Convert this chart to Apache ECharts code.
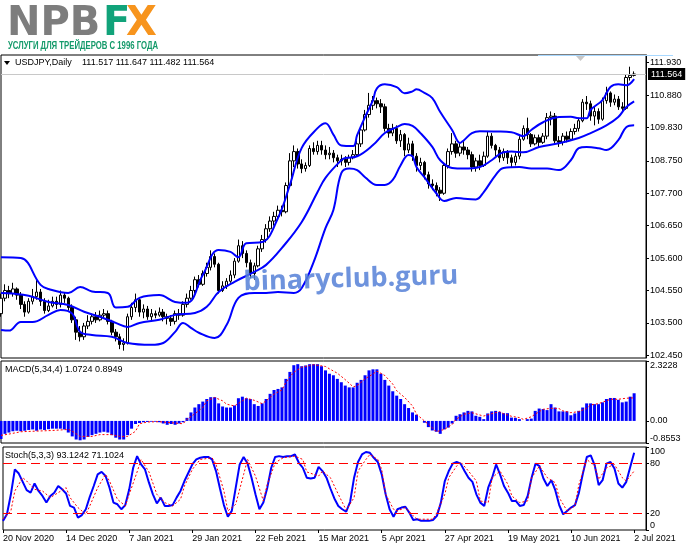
<!DOCTYPE html>
<html><head><meta charset="utf-8">
<script src="https://cdn.jsdelivr.net/npm/echarts@6/dist/echarts.min.js"></script>
<style>html,body{margin:0;padding:0;background:#fff}#c{width:691px;height:549px}</style>
</head><body><div id="c"></div>
<script>
// ---------- DATA ----------
const tickLabels = ['20 Nov 2020','14 Dec 2020','7 Jan 2021','29 Jan 2021','22 Feb 2021','15 Mar 2021','5 Apr 2021','27 Apr 2021','19 May 2021','10 Jun 2021','2 Jul 2021'];
const labelEvery = 16;      // bars between date labels
const slotCount = 164;      // bar slots on the time axis (incl. right shift)
const priceTicks = [102.45,103.5,104.55,105.6,106.65,107.7,108.75,109.83,110.88,111.93];
const macdTicks = [-0.8553, 0, 2.3228];
const stochTicks = [0, 20, 80, 100];
const stochLevels = [20, 80];
const lastPrice = 111.564;
const headerValues = [111.517, 111.647, 111.482, 111.564];
const macdHeader = [1.0724, 0.8949];
const stochHeader = [93.1242, 71.1024];

// [open, high, low, close]
const ohlc = [
[103.80,104.45,103.70,104.30],[104.30,104.75,104.20,104.55],[104.55,104.70,104.30,104.45],[104.45,104.80,104.35,104.60],
[104.60,104.65,104.25,104.40],[104.40,104.50,103.95,104.10],[104.10,104.20,103.70,103.85],[103.85,104.30,103.80,104.20],
[104.20,104.60,104.10,104.35],[104.35,104.95,104.25,104.50],[104.50,104.60,104.05,104.20],[104.20,104.30,103.80,103.90],
[103.90,104.25,103.85,104.05],[104.05,104.35,104.00,104.20],[104.20,104.35,103.95,104.10],[104.10,104.55,104.00,104.40],
[104.40,104.50,104.15,104.30],[104.30,104.35,103.90,104.00],[104.00,104.10,103.50,103.60],[103.60,103.70,102.95,103.20],
[103.20,103.40,102.90,103.05],[103.05,103.50,102.95,103.40],[103.40,103.75,103.30,103.55],[103.55,103.80,103.45,103.70],
[103.70,103.85,103.50,103.60],[103.60,103.90,103.55,103.75],[103.75,103.95,103.65,103.80],[103.80,103.90,103.45,103.55],
[103.55,103.60,103.10,103.20],[103.20,103.30,102.90,103.05],[103.05,103.15,102.65,102.80],[102.80,103.00,102.60,102.85],
[102.85,103.80,102.80,103.70],[103.70,104.15,103.60,104.00],[104.00,104.45,103.85,104.25],[104.25,104.30,103.70,103.85],
[103.85,104.10,103.65,103.95],[103.95,104.05,103.60,103.70],[103.70,103.95,103.55,103.80],[103.80,103.90,103.65,103.75],
[103.75,104.00,103.70,103.85],[103.85,103.95,103.55,103.70],[103.70,103.80,103.45,103.65],[103.65,103.75,103.40,103.55],
[103.55,103.90,103.45,103.80],[103.80,103.95,103.60,103.75],[103.75,104.20,103.70,104.10],[104.10,104.45,104.00,104.30],
[104.30,104.70,104.25,104.55],[104.55,105.00,104.45,104.90],[104.90,105.05,104.65,104.75],[104.75,105.20,104.70,105.10],
[105.10,105.45,105.00,105.30],[105.30,105.85,105.20,105.65],[105.65,105.75,105.30,105.40],[105.40,105.45,104.45,104.55],
[104.55,104.85,104.50,104.70],[104.70,104.95,104.60,104.85],[104.85,105.20,104.80,105.05],[105.05,105.60,104.95,105.50],
[105.50,106.20,105.45,106.00],[106.00,106.15,105.60,105.75],[105.75,105.85,105.30,105.45],[105.45,105.55,104.95,105.10],
[105.10,105.45,104.90,105.35],[105.35,106.00,105.30,105.90],[105.90,106.35,105.80,106.20],[106.20,106.70,106.10,106.55],
[106.55,106.95,106.45,106.80],[106.80,107.10,106.65,106.95],[106.95,107.30,106.85,107.15],[107.15,107.30,106.95,107.10],
[107.10,108.05,107.05,107.95],[107.95,109.00,107.90,108.75],[108.75,109.25,108.55,109.05],[109.05,109.15,108.50,108.65],
[108.65,108.80,108.35,108.50],[108.50,108.70,108.40,108.60],[108.60,109.25,108.55,109.15],[109.15,109.35,108.95,109.05],
[109.05,109.40,108.95,109.25],[109.25,109.40,108.95,109.10],[109.10,109.25,108.80,108.95],[108.95,109.20,108.80,109.00],
[109.00,109.10,108.70,108.85],[108.85,108.95,108.55,108.75],[108.75,108.95,108.60,108.80],[108.80,108.90,108.55,108.70],
[108.70,108.95,108.60,108.85],[108.85,109.10,108.80,108.95],[108.95,109.40,108.90,109.30],[109.30,109.85,109.20,109.75],
[109.75,110.40,109.70,110.25],[110.25,110.95,110.15,110.55],[110.55,110.85,110.40,110.70],[110.70,110.80,110.45,110.60],
[110.60,110.75,110.30,110.50],[110.50,110.60,109.70,109.80],[109.80,109.95,109.50,109.65],[109.65,109.95,109.55,109.80],
[109.80,109.90,109.30,109.40],[109.40,109.75,109.20,109.60],[109.60,109.65,108.90,109.10],[109.10,109.50,109.00,109.30],
[109.30,109.40,108.75,108.90],[108.90,109.00,108.40,108.60],[108.60,108.85,108.45,108.70],[108.70,108.75,108.15,108.30],
[108.30,108.40,107.85,108.00],[108.00,108.15,107.80,107.95],[107.95,108.05,107.60,107.80],[107.80,107.90,107.45,107.70],
[107.70,108.70,107.65,108.60],[108.60,109.15,108.50,109.05],[109.05,109.65,108.95,109.30],[109.30,109.40,108.85,109.00],
[109.00,109.35,108.90,109.20],[109.20,109.40,108.95,109.10],[109.10,109.20,108.80,108.95],[108.95,109.05,108.40,108.55],
[108.55,108.85,108.40,108.75],[108.75,108.95,108.45,108.60],[108.60,109.05,108.55,108.90],[108.90,109.70,108.85,109.55],
[109.55,109.65,109.15,109.25],[109.25,109.30,108.90,109.10],[109.10,109.20,108.70,108.85],[108.85,109.15,108.75,109.05],
[109.05,109.10,108.65,108.85],[108.85,108.95,108.55,108.70],[108.70,109.00,108.60,108.90],[108.90,109.55,108.80,109.45],
[109.45,109.90,109.40,109.80],[109.80,110.15,109.45,109.60],[109.60,109.65,109.20,109.30],[109.30,109.60,109.25,109.50],
[109.50,109.60,109.20,109.35],[109.35,109.65,109.30,109.55],[109.55,110.30,109.45,110.15],[110.15,110.35,109.90,110.20],
[110.20,110.30,109.30,109.40],[109.40,109.55,109.20,109.35],[109.35,109.65,109.25,109.55],[109.55,109.70,109.35,109.45],
[109.45,109.80,109.40,109.70],[109.70,109.95,109.60,109.80],[109.80,110.15,109.70,110.05],[110.05,110.75,110.00,110.65],
[110.65,110.85,110.40,110.60],[110.60,110.70,110.05,110.20],[110.20,110.50,109.90,110.35],[110.35,110.45,109.95,110.10],
[110.10,110.80,110.05,110.70],[110.70,111.15,110.60,110.95],[110.95,111.00,110.50,110.65],[110.65,110.90,110.55,110.75],
[110.75,110.85,110.40,110.50],[110.50,110.65,110.30,110.45],[110.45,111.55,110.40,111.45],[111.45,111.80,111.35,111.52],
[111.517,111.647,111.482,111.564]
];

// Bollinger bands: [bar index, price]
const bbUpper = [[0,105.63],[5,105.60],[10,104.73],[12,104.60],[17,104.47],[20,104.66],[23,104.52],[27,104.47],[29,104.00],[32,104.02],[35,104.31],[40,104.40],[44,104.18],[47,104.15],[51,105.05],[55,105.86],[58,105.80],[60,105.63],[62,106.08],[66,106.12],[70,106.90],[73,107.97],[76,109.17],[80,109.81],[82,109.97],[84,109.60],[86,109.25],[89,109.23],[90,109.58],[92,110.17],[94,110.72],[95,111.10],[97,111.23],[100,111.14],[102,110.94],[104,111.00],[105,111.07],[107,110.95],[109,110.78],[111,110.33],[114,109.75],[116,109.33],[117,109.42],[119,109.65],[121,109.71],[125,109.70],[129,109.68],[132,109.55],[134,109.75],[137,110.00],[141,110.17],[144,110.18],[146,110.13],[148,110.13],[149,110.40],[152,110.72],[154,111.14],[156,111.23],[158,111.20],[160,111.40]];
const bbMiddle = [[0,104.47],[3,104.45],[7,104.38],[12,104.18],[17,104.08],[21,103.86],[25,103.70],[29,103.50],[32,103.37],[35,103.50],[40,103.60],[44,103.76],[49,103.82],[52,104.02],[55,104.50],[59,104.83],[64,105.15],[67,105.38],[71,105.93],[76,106.77],[80,107.74],[82,108.20],[86,108.77],[87,108.84],[90,108.90],[94,109.26],[97,109.65],[100,109.84],[102,109.94],[104,109.88],[106,109.65],[109,109.20],[111,108.77],[114,108.52],[117,108.50],[121,108.55],[124,108.77],[127,109.03],[129,109.05],[132,109.03],[136,109.20],[141,109.32],[146,109.49],[149,109.65],[153,109.90],[156,110.17],[158,110.49],[160,110.68]];
const bbLower = [[0,103.27],[2,103.25],[5,103.53],[8,103.53],[12,103.76],[15,103.92],[18,103.80],[20,103.21],[23,103.11],[28,103.05],[32,102.85],[38,102.79],[41,102.85],[44,103.21],[46,103.50],[48,103.34],[50,103.18],[54,103.01],[57,103.43],[60,104.31],[64,104.47],[67,104.47],[70,104.50],[74,104.47],[76,104.63],[79,105.47],[82,106.57],[84,107.16],[86,108.35],[88,108.50],[90,108.45],[92,108.22],[95,107.97],[97,107.97],[99,108.13],[101,108.61],[103,108.94],[104,108.90],[105,108.55],[107,108.22],[110,107.70],[112,107.45],[115,107.55],[117,107.52],[120,107.50],[122,107.74],[125,108.29],[127,108.52],[131,108.55],[134,108.50],[138,108.50],[141,108.45],[144,108.77],[146,109.16],[148,109.20],[151,109.16],[153,109.10],[156,109.42],[158,109.84],[160,109.90]];

const macdHist = [-0.70,-0.50,-0.45,-0.40,-0.38,-0.40,-0.38,-0.35,-0.33,-0.38,-0.33,-0.35,-0.32,-0.30,-0.30,-0.30,-0.33,-0.45,-0.60,-0.72,
-0.75,-0.72,-0.62,-0.55,-0.50,-0.45,-0.42,-0.45,-0.55,-0.65,-0.72,-0.72,-0.55,-0.30,-0.12,-0.08,-0.05,-0.04,-0.03,-0.03,
-0.05,-0.10,-0.15,-0.12,-0.15,-0.10,-0.05,0.12,0.33,0.52,0.65,0.75,0.85,0.92,0.92,0.68,0.56,0.52,0.52,0.60,
0.88,0.94,0.88,0.85,0.65,0.58,0.68,0.85,1.05,1.20,1.24,1.30,1.63,1.90,2.16,2.20,2.12,2.15,2.20,2.20,
2.20,2.12,1.96,1.83,1.77,1.63,1.50,1.37,1.30,1.30,1.48,1.59,1.77,1.96,2.00,2.00,1.83,1.59,1.37,1.15,
0.98,0.85,0.65,0.50,0.33,0.24,0.00,-0.07,-0.24,-0.37,-0.42,-0.50,-0.33,-0.26,-0.10,0.20,0.26,0.33,0.39,0.37,
0.20,0.16,0.07,0.29,0.37,0.39,0.35,0.30,0.30,0.13,0.12,0.07,0.00,0.07,0.09,0.39,0.48,0.46,0.42,0.65,
0.52,0.37,0.37,0.37,0.22,0.29,0.39,0.52,0.68,0.68,0.65,0.65,0.72,0.85,0.89,0.89,0.82,0.72,0.75,0.94,1.0724];
const macdSignal = [[0,-0.56],[2,-0.51],[5,-0.42],[8,-0.40],[13,-0.37],[17,-0.33],[18,-0.40],[20,-0.60],[23,-0.60],[25,-0.53],[28,-0.53],[30,-0.60],[32,-0.60],[34,-0.40],[35,-0.11],[37,-0.04],[40,-0.03],[43,-0.07],[46,-0.11],[47,0.06],[49,0.28],[51,0.52],[52,0.78],[54,0.91],[56,0.78],[57,0.65],[59,0.58],[61,0.78],[62,0.88],[64,0.80],[66,0.67],[67,0.78],[69,1.04],[71,1.20],[72,1.50],[74,1.89],[76,2.08],[79,2.18],[82,2.11],[83,2.02],[85,1.85],[87,1.60],[89,1.32],[90,1.37],[92,1.63],[94,1.82],[95,1.93],[97,1.76],[99,1.43],[100,1.17],[102,0.91],[104,0.58],[105,0.26],[107,0.0],[109,-0.26],[110,-0.42],[112,-0.33],[114,-0.14],[115,0.06],[117,0.26],[119,0.32],[121,0.23],[122,0.19],[124,0.28],[126,0.36],[127,0.28],[129,0.18],[131,0.13],[132,0.06],[134,0.16],[136,0.36],[137,0.45],[139,0.49],[141,0.48],[142,0.39],[144,0.32],[146,0.36],[148,0.49],[149,0.62],[151,0.67],[153,0.78],[154,0.84],[156,0.84],[158,0.88],[160,0.8949]];

const stochMain = [11,19,43,73,68,58,48,45,56,47,41,33,41,45,53,49,44,29,27,15,
18,25,40,53,67,70,65,51,33,31,25,30,49,75,89,79,73,57,43,32,
39,29,29,30,39,47,59,69,79,85,87,88,88,85,71,50,30,16,23,51,
79,88,80,63,43,25,33,51,75,88,89,88,89,89,91,81,75,63,62,63,
76,71,63,50,38,29,25,22,34,63,82,91,94,93,87,82,67,43,25,16,
25,27,28,21,12,13,11,11,11,12,17,33,59,71,80,82,80,71,63,58,
43,33,29,51,63,79,67,53,45,35,35,29,30,41,63,80,77,62,53,60,
48,30,19,23,27,30,45,68,88,90,78,54,60,80,82,74,56,51,58,76,93.1242];
const stochSignal = [[0,13],[2,23],[3,47],[5,63],[6,59],[8,49],[10,47],[12,39],[14,45],[16,51],[17,39],[19,27],[21,19],[22,29],[24,51],[26,67],[27,59],[29,37],[31,29],[32,43],[34,70],[35,85],[37,70],[39,43],[41,33],[43,29],[45,37],[46,53],[48,73],[50,85],[53,87],[54,79],[56,47],[57,23],[59,31],[61,67],[62,85],[64,65],[66,35],[67,55],[69,81],[71,87],[74,89],[76,85],[77,70],[80,65],[81,71],[83,63],[85,43],[87,24],[89,39],[90,71],[92,85],[93,91],[95,85],[96,73],[97,43],[99,25],[100,23],[102,27],[104,17],[105,13],[109,13],[110,21],[112,43],[113,63],[115,77],[116,82],[118,71],[120,59],[121,35],[123,33],[124,63],[126,71],[128,55],[129,41],[131,33],[133,35],[134,63],[136,77],[138,63],[140,57],[141,39],[143,23],[145,29],[146,55],[148,85],[150,77],[151,61],[153,75],[155,79],[157,63],[158,59],[159,65],[160,71.1024]];

// ---------- CHART ----------
const FONT = 'Liberation Sans';
const cats = Array.from({length: slotCount}, (_, i) => String(i));
const candles = ohlc.map(r => [r[0], r[3], r[2], r[1]]);
const isLabel = i => i % labelEvery === 0 && i / labelEvery < tickLabels.length;

const L = 1, W = 645;
const grids = [
  {left: L, top: 55, width: W, height: 303},
  {left: L, top: 361, width: W, height: 82},
  {left: L, top: 447, width: W, height: 83}
].map(g => Object.assign(g, {show: true, borderColor: '#000', borderWidth: 1, backgroundColor: '#fff'}));

function xAx(idx, labels) {
  return {
    type: 'category', gridIndex: idx, data: cats, boundaryGap: false,
    axisLine: {show: false},
    axisTick: {show: labels, interval: (i) => isLabel(i), length: 3, lineStyle: {color: '#000'}},
    axisLabel: {show: labels, interval: (i) => isLabel(i), formatter: (v, i) => isLabel(i) ? tickLabels[i / labelEvery] : '',
      align: 'left', margin: 4, fontSize: 9, fontFamily: FONT, color: '#000'},
    splitLine: {show: false}
  };
}
function yAx(idx, min, max, ticks, fmt, edgeAlign) {
  const lab = {customValues: ticks, formatter: fmt, margin: 4, fontSize: 9, fontFamily: FONT, color: '#000'};
  if (edgeAlign) { lab.verticalAlignMaxLabel = 'top'; lab.verticalAlignMinLabel = 'bottom'; }
  return {
    type: 'value', gridIndex: idx, position: 'right', min: min, max: max,
    axisLine: {show: true, lineStyle: {color: '#000'}},
    axisTick: {show: true, customValues: ticks, length: 3, lineStyle: {color: '#000'}},
    axisLabel: lab,
    splitLine: {show: false}
  };
}

const blue = '#0000ff', red = '#ff0000';
const lineS = (data, xi, color, width, type, smooth) => ({
  type: 'line', xAxisIndex: xi, yAxisIndex: xi, data: data, showSymbol: false, symbol: 'none',
  smooth: smooth || false, lineStyle: {color: color, width: width, type: type || 'solid'}, silent: true, z: 3
});

const chart = echarts.init(document.getElementById('c'), null, {renderer: 'canvas'});

// tagline: squeeze bold sans into the logo width
const ctx = document.createElement('canvas').getContext('2d');
const tagText = 'УСЛУГИ ДЛЯ ТРЕЙДЕРОВ С 1996 ГОДА';
const tagFont = 'bold 11px "Liberation Sans"';
ctx.font = tagFont;
const tagScale = 150 / ctx.measureText(tagText).width;

const hdrFont = '9px "' + FONT + '"';
const option = {
  animation: false,
  backgroundColor: '#fff',
  grid: grids,
  xAxis: [xAx(0, false), xAx(1, false), xAx(2, true)],
  yAxis: [
    yAx(0, 102.363, 112.179, priceTicks, v => v.toFixed(3), false),
    yAx(1, macdTicks[0], macdTicks[2], macdTicks, v => v === 0 ? '0.00' : v.toFixed(4), true),
    yAx(2, 0, 100, stochTicks, v => String(v), true)
  ],
  series: [
    {type: 'candlestick', xAxisIndex: 0, yAxisIndex: 0, data: candles, barWidth: 3, silent: true, z: 2,
     itemStyle: {color: '#ffffff', color0: '#000000', borderColor: '#000000', borderColor0: '#000000', borderWidth: 1},
     markLine: {silent: true, symbol: 'none', animation: false,
       lineStyle: {color: '#c8c8c8', type: 'solid', width: 1},
       label: {position: 'end', distance: 2, formatter: lastPrice.toFixed(3), backgroundColor: '#000', color: '#fff',
         padding: [2, 3, 1, 3], fontSize: 9, fontFamily: FONT},
       data: [{yAxis: lastPrice}]}},
    lineS(bbUpper, 0, blue, 2, 'solid', 0.4),
    lineS(bbMiddle, 0, blue, 2, 'solid', 0.4),
    lineS(bbLower, 0, blue, 2, 'solid', 0.4),
    {type: 'bar', xAxisIndex: 1, yAxisIndex: 1, data: macdHist, barWidth: 3, itemStyle: {color: blue}, silent: true},
    lineS(macdSignal, 1, red, 1, [2, 2]),
    Object.assign(lineS(stochMain, 2, blue, 2), {
      markLine: {silent: true, symbol: 'none', animation: false, label: {show: false},
        lineStyle: {color: red, type: [9, 5], width: 1}, data: stochLevels.map(v => ({yAxis: v}))}}),
    lineS(stochSignal, 2, red, 1, [2, 2])
  ],
  graphic: [
    // logo
    {type: 'text', silent: true, style: {x: 7, y: 25, text: 'NPB', font: 'bold 40px "DejaVu Sans"', fill: '#7d7d7d', verticalAlign: 'middle'}},
    {type: 'text', silent: true, style: {x: 103, y: 25, text: 'F', font: 'bold 40px "DejaVu Sans"', fill: '#11a37a', verticalAlign: 'middle'}},
    {type: 'text', silent: true, style: {x: 126, y: 25, text: 'X', font: 'bold 40px "DejaVu Sans"', fill: '#f7941d', verticalAlign: 'middle'}},
    {type: 'text', silent: true, x: 8, y: 46, scaleX: tagScale, style: {x: 0, y: 0, text: tagText, font: tagFont, fill: '#149a6a', verticalAlign: 'middle'}},
    // header
    {type: 'polygon', silent: true, z: 50, shape: {points: [[4, 61], [10, 61], [7, 65]]}, style: {fill: '#000'}},
    {type: 'text', silent: true, z: 50, style: {x: 15, y: 63, text: 'USDJPY,Daily', font: hdrFont, fill: '#000', verticalAlign: 'middle'}},
    {type: 'text', silent: true, z: 50, style: {x: 82, y: 63, text: headerValues.map(v => v.toFixed(3)).join(' '), font: hdrFont, fill: '#000', verticalAlign: 'middle'}},
    {type: 'text', silent: true, z: 50, style: {x: 5, y: 370, text: 'MACD(5,34,4) ' + macdHeader.map(v => v.toFixed(4)).join(' '), font: hdrFont, fill: '#000', verticalAlign: 'middle'}},
    {type: 'text', silent: true, z: 50, style: {x: 5, y: 456, text: 'Stoch(5,3,3) ' + stochHeader.map(v => v.toFixed(4)).join(' '), font: hdrFont, fill: '#000', verticalAlign: 'middle'}},
    // chart-shift marker
    {type: 'line', silent: true, z: 60, shape: {x1: 538, y1: 55.5, x2: 673, y2: 55.5}, style: {stroke: '#a8d8ff', lineWidth: 1}},
    {type: 'polygon', silent: true, z: 60, shape: {points: [[576, 56], [585, 56], [580.5, 61]]}, style: {fill: '#c8c8c8'}},
    // watermark
    {type: 'text', silent: true, z: 100, x: 244, y: 296, rotation: 0.03,
     style: {x: 0, y: 0, text: 'binaryclub.guru', font: 'bold 27px "Open Sans"', fill: 'rgba(85,128,215,0.85)', verticalAlign: 'bottom'}}
  ]
};
chart.setOption(option);
</script>
</body></html>
